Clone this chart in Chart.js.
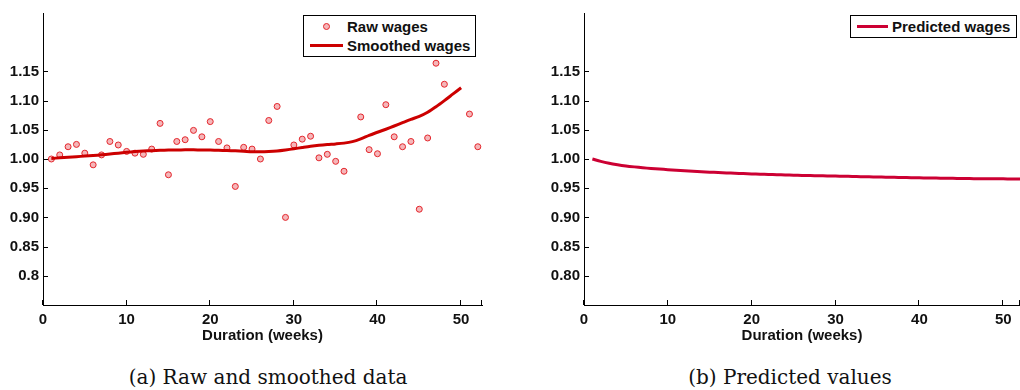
<!DOCTYPE html>
<html>
<head>
<meta charset="utf-8">
<script src="https://cdn.jsdelivr.net/npm/chart.js@4.4.0/dist/chart.umd.min.js"></script>
<style>
  body { margin: 0; background: #fff; width: 1020px; height: 390px; position: relative; overflow: hidden; }
  canvas { position: absolute; top: 0; }
  #chartRaw { left: 0; }
  #chartPred { left: 540px; }
  .legend { position: absolute; top: 15px; border: 1px solid #000; background: #fff; box-sizing: border-box; padding-top: 1px;
            font: bold 15px "Liberation Sans", Arial, sans-serif; color: #111; }
  .legend .row { display: flex; align-items: center; height: 19px; white-space: nowrap; }
  .legend .sample { flex: none; position: relative; height: 19px; margin-left: 6px; margin-right: 4px; }
  .legend .sample .ln { position: absolute; left: 0; right: 0; top: 8px; height: 3px; }
  .legend .sample .dot { position: absolute; left: 50%; top: 50%; width: 5px; height: 5px; margin: -3.5px 0 0 -3.5px; border-radius: 50%; border: 1px solid; }
  #legendRaw { left: 303px; width: 173px; height: 42px; }
  #legendPred { left: 850px; width: 167px; height: 23px; }
  .caption { position: absolute; top: 365px; line-height: 24px; font: 20px "DejaVu Serif", serif; color: #111;
             transform: translateX(-50%); white-space: nowrap; }
</style>
</head>
<body>
<canvas id="chartRaw" width="505" height="345"></canvas>
<canvas id="chartPred" width="480" height="345"></canvas>
<div class="legend" id="legendRaw"></div>
<div class="legend" id="legendPred"></div>
<div class="caption" style="left:268px">(a) Raw and smoothed data</div>
<div class="caption" style="left:790px">(b) Predicted values</div>
<script>
// weeks that have a raw observation (no 37, 49, 50)
const rawWeeks = [1, 2, 3, 4, 5, 6, 7, 8, 9, 10, 11, 12, 13, 14, 15, 16, 17, 18, 19, 20,
    21, 22, 23, 24, 25, 26, 27, 28, 29, 30, 31, 32, 33, 34, 35, 36,
    38, 39, 40, 41, 42, 43, 44, 45, 46, 47, 48, 51, 52];
const rawWages = [1.000, 1.007, 1.021, 1.025, 1.010, 0.990, 1.007, 1.030, 1.024, 1.013,
    1.010, 1.008, 1.017, 1.061, 0.973, 1.030, 1.033, 1.049, 1.038, 1.064,
    1.030, 1.019, 0.953, 1.020, 1.017, 1.000, 1.066, 1.090, 0.900, 1.024,
    1.034, 1.039, 1.002, 1.008, 0.996, 0.979,
    1.072, 1.016, 1.009, 1.093, 1.038, 1.021, 1.030, 0.914, 1.036, 1.164, 1.128, 1.077, 1.021];

// weeks 1..50
const smoothWages = [1.0010, 1.0020, 1.0030, 1.0040, 1.0050, 1.0060, 1.0072, 1.0085, 1.0100, 1.0115,
    1.0127, 1.0136, 1.0143, 1.0148, 1.0152, 1.0155, 1.0157, 1.0157, 1.0155, 1.0152,
    1.0149, 1.0145, 1.0140, 1.0133, 1.0125, 1.0123, 1.0128, 1.0138, 1.0155, 1.0175,
    1.0197, 1.0218, 1.0235, 1.0248, 1.0258, 1.0272, 1.0298, 1.0345, 1.0405, 1.0458,
    1.0510, 1.0565, 1.0622, 1.0678, 1.0730, 1.0800, 1.0895, 1.1000, 1.1110, 1.1220];

// weeks 1..52
const predWages = [1.0000, 0.9960, 0.9928, 0.9903, 0.9882, 0.9865, 0.9850, 0.9838, 0.9827, 0.9818,
    0.9808, 0.9799, 0.9790, 0.9782, 0.9775, 0.9768, 0.9762, 0.9756, 0.9750, 0.9745,
    0.9740, 0.9735, 0.9731, 0.9727, 0.9723, 0.9719, 0.9716, 0.9713, 0.9710, 0.9707,
    0.9704, 0.9701, 0.9698, 0.9695, 0.9692, 0.9689, 0.9686, 0.9683, 0.9680, 0.9677,
    0.9675, 0.9673, 0.9671, 0.9669, 0.9667, 0.9665, 0.9663, 0.9662, 0.9661, 0.9660,
    0.9659, 0.9658];

const xTicks = [0, 10, 20, 30, 40, 50];
const yTicks = [0.8, 0.85, 0.9, 0.95, 1.0, 1.05, 1.1, 1.15];
const yLabelsRaw = ['0.8', '0.85', '0.90', '0.95', '1.00', '1.05', '1.10', '1.15'];
const yLabelsPred = ['0.80', '0.85', '0.90', '0.95', '1.00', '1.05', '1.10', '1.15'];

const toPoints = (xs, ys) => ys.map((v, i) => ({ x: xs[i], y: v }));
const weeksFor = (arr) => arr.map((_, i) => i + 1);

Chart.defaults.font.family = '"Liberation Sans", Arial, sans-serif';
const labelFont = { size: 15, weight: 'bold' };

// matlab style: tick marks point into the plot
const innerTicks = {
    id: 'innerTicks',
    afterDraw(chart) {
        const { ctx, chartArea } = chart;
        const x = chart.scales.x, y = chart.scales.y;
        ctx.save();
        ctx.strokeStyle = '#000';
        ctx.lineWidth = 1;
        ctx.beginPath();
        [...x.ticks.map(t => t.value), x.max].forEach(v => {
            const px = Math.round(x.getPixelForValue(v)) - 0.5;
            ctx.moveTo(px, chartArea.bottom);
            ctx.lineTo(px, chartArea.bottom - 5);
        });
        y.ticks.forEach(t => {
            const py = Math.round(y.getPixelForValue(t.value)) + 0.5;
            ctx.moveTo(chartArea.left, py);
            ctx.lineTo(chartArea.left + 5, py);
        });
        ctx.stroke();
        ctx.restore();
    }
};

const makeOptions = (xMax, yLabels, yWidth, rightPad) => ({
    responsive: false,
    animation: false,
    devicePixelRatio: 1,
    layout: { padding: { top: 9, right: rightPad, left: 0, bottom: 0 } },
    plugins: { legend: { display: false }, tooltip: { enabled: false } },
    scales: {
        x: {
            type: 'linear', min: 0, max: xMax,
            afterBuildTicks: s => { s.ticks = xTicks.map(v => ({ value: v })); },
            afterFit: s => { s.height = 40; },
            grid: { drawOnChartArea: false, drawTicks: false },
            border: { color: '#000', width: 1 },
            ticks: { padding: 6, color: '#111', font: labelFont, maxRotation: 0, autoSkip: false, callback: v => String(v) },
            title: { display: true, text: 'Duration (weeks)', color: '#111', font: labelFont, padding: { top: 0, bottom: 0 } }
        },
        y: {
            type: 'linear', min: 0.75, max: 1.25,
            afterBuildTicks: s => { s.ticks = yTicks.map(v => ({ value: v })); },
            afterFit: s => { s.width = yWidth; },
            grid: { drawOnChartArea: false, drawTicks: false },
            border: { color: '#000', width: 1 },
            ticks: { padding: 4, color: '#111', font: labelFont, autoSkip: false, callback: (v, i) => yLabels[i] }
        }
    }
});

const rawChart = new Chart(document.getElementById('chartRaw'), {
    type: 'scatter',
    data: {
        datasets: [{
            label: 'Raw wages',
            data: toPoints(rawWeeks, rawWages),
            pointRadius: 3,
            pointBorderWidth: 1,
            borderColor: '#e3262c',
            backgroundColor: '#f5b6b9',
            order: 1
        }, {
            label: 'Smoothed wages',
            data: toPoints(weeksFor(smoothWages), smoothWages),
            showLine: true,
            pointRadius: 0,
            borderColor: '#cc0000',
            borderWidth: 3,
            tension: 0.3,
            order: 0
        }]
    },
    options: makeOptions(52.5, yLabelsRaw, 43, 23),
    plugins: [innerTicks]
});

const predChart = new Chart(document.getElementById('chartPred'), {
    type: 'scatter',
    data: {
        datasets: [{
            label: 'Predicted wages',
            data: toPoints(weeksFor(predWages), predWages),
            showLine: true,
            pointRadius: 0,
            borderColor: '#cc0033',
            borderWidth: 3,
            tension: 0.3
        }]
    },
    options: makeOptions(52, yLabelsPred, 44, 0),
    plugins: [innerTicks]
});

// html legend boxes built from the datasets
const buildLegend = (chart, el, sampleWidth) => {
    chart.data.datasets.forEach(ds => {
        const row = document.createElement('div');
        row.className = 'row';
        const sample = document.createElement('span');
        sample.className = 'sample';
        sample.style.width = sampleWidth + 'px';
        const mark = document.createElement('span');
        if (ds.showLine) {
            mark.className = 'ln';
            mark.style.background = ds.borderColor;
        } else {
            mark.className = 'dot';
            mark.style.borderColor = ds.borderColor;
            mark.style.background = ds.backgroundColor;
        }
        sample.appendChild(mark);
        const text = document.createElement('span');
        text.textContent = ds.label;
        row.appendChild(sample);
        row.appendChild(text);
        el.appendChild(row);
    });
};
buildLegend(rawChart, document.getElementById('legendRaw'), 33);
buildLegend(predChart, document.getElementById('legendPred'), 31);
</script>
</body>
</html>
